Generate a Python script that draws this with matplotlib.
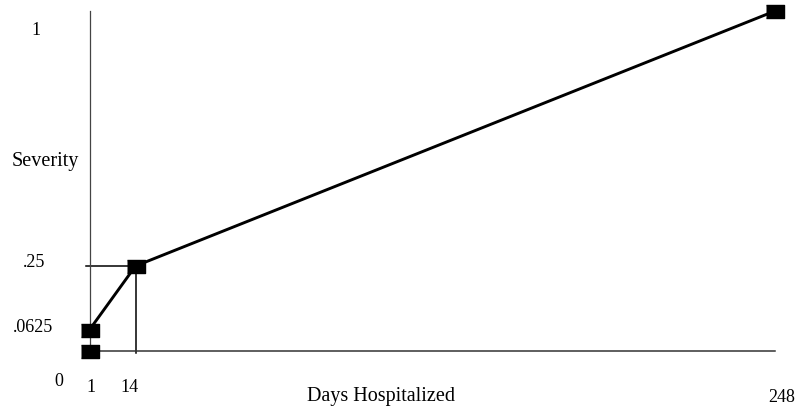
import numpy as np
import matplotlib
matplotlib.use('Agg')
import matplotlib.pyplot as plt

# data
days_line = [1, 14, 248]
severity_line = [0.0625, 0.25, 1.0]
days_base = [1]
severity_base = [0.0]
ref_day = 14
ref_severity = 0.25

x_labels = ['1', '14', '248']
y_labels = ['.25', '.0625']

plt.rcParams['font.family'] = ['Liberation Serif', 'DejaVu Serif']

# the short span 1..14 is drawn wider than the rest
STRETCH = 1.2957


def fwd(x):
    x = np.asarray(x, dtype=float)
    return np.where(x < 14, 14 - (14 - x) * STRETCH, x)


def inv(y):
    y = np.asarray(y, dtype=float)
    return np.where(y < 14, 14 - (14 - y) / STRETCH, y)


fig = plt.figure(figsize=(7.98, 4.13), dpi=100)
ax = fig.add_axes([89.5 / 798, (413 - 351) / 413, 685.5 / 798, 340 / 413])
ax.set_xscale('function', functions=(fwd, inv))
ax.set_xlim(1, 248)
ax.set_ylim(0, 1)

for s in ['top', 'right']:
    ax.spines[s].set_visible(False)
ax.spines['left'].set_color('#444444')
ax.spines['left'].set_linewidth(0.9)
ax.spines['bottom'].set_color('#333333')
ax.spines['bottom'].set_linewidth(1.1)
ax.set_xticks([])
ax.set_yticks([])

rect = [(-1, -0.72), (1, -0.72), (1, 0.72), (-1, 0.72)]

# reference lines to the 14-day point
ax.plot([0.0, ref_day], [ref_severity, ref_severity], color='black', lw=1.1,
        clip_on=False, zorder=2)
ax.plot([ref_day, ref_day], [ref_severity, -0.006], color='black', lw=1.1,
        clip_on=False, zorder=2)

ax.plot(days_line, severity_line, color='black', lw=2.1, marker=rect,
        markersize=13, clip_on=False, zorder=3)
ax.plot(days_base, severity_base, color='black', lw=0, marker=rect,
        markersize=13, clip_on=False, zorder=3)

fs_num = 13
fs_word = 14.5
xt = ax.get_xaxis_transform()
yt = ax.get_yaxis_transform()

# y side labels
ax.text(-0.078, 0.944, '1', transform=ax.transAxes, ha='center', va='center',
        fontsize=fs_num)
ax.text(-0.065, 0.556, 'Severity', transform=ax.transAxes, ha='center',
        va='center', fontsize=fs_word)
ax.text(-0.081, 0.26, y_labels[0], transform=yt, ha='center', va='center',
        fontsize=fs_num)
ax.text(-0.082, 0.07, y_labels[1], transform=yt, ha='center', va='center',
        fontsize=fs_num)

# x side labels
ax.text(-0.0445, -0.091, '0', transform=ax.transAxes, ha='center',
        va='center', fontsize=fs_num)
ax.text(1.4, -0.106, x_labels[0], transform=xt, ha='center', va='center',
        fontsize=fs_num)
ax.text(12.3, -0.106, x_labels[1], transform=xt, ha='center', va='center',
        fontsize=fs_num)
ax.text(250.5, -0.138, x_labels[2], transform=xt, ha='center', va='center',
        fontsize=fs_num)
ax.text(0.425, -0.135, 'Days Hospitalized', transform=ax.transAxes,
        ha='center', va='center', fontsize=fs_word)

fig.savefig('out.png', dpi=100)
